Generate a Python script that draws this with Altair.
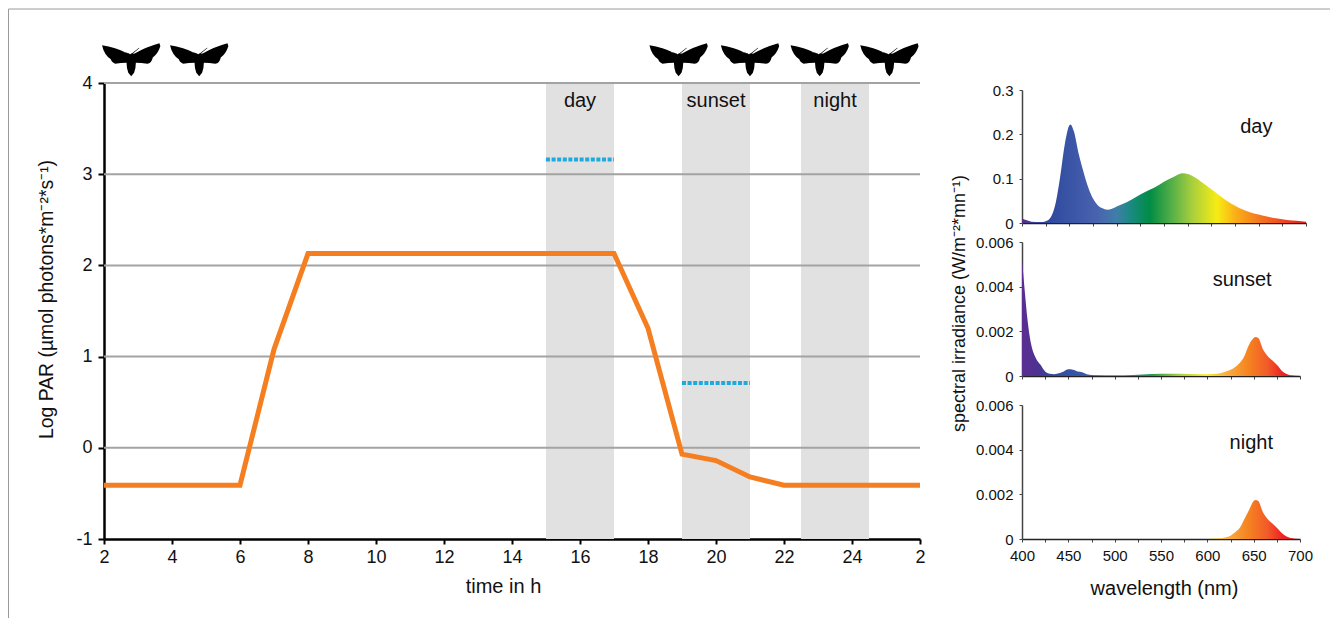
import altair as alt
import pandas as pd

FONT = "Liberation Sans"

# left panel data
line_t = [2, 6, 7, 8, 17, 18, 19, 20, 21, 22, 26]
line_v = [-0.41, -0.41, 1.08, 2.13, 2.13, 1.31, -0.07, -0.14, -0.32, -0.41, -0.41]
band_names = ["day", "sunset", "night"]
band_start = [15, 19, 22.5]
band_end = [17, 21, 24.5]
band_label_x = [16, 20, 23.5]
band_label_y = [3.8, 3.8, 3.8]
meas_start = [15, 19]
meas_end = [17, 21]
meas_v = [3.16, 0.71]
grid_v = [0, 1, 2, 3, 4]
moth_t = [2.8, 4.8, 18.9, 21.0, 23.05, 25.1]
moth_y = [4.26] * 6
MOTH = ("M0,-0.2 L0.03,-0.21 L0.27,-0.4 L0.285,-0.39 L0.05,-0.19 L0.12,-0.2 Q0.5,-0.42 0.97,-0.55 L1,-0.45 "
        "Q0.92,-0.2 0.74,-0.06 Q0.7,0.14 0.55,0.15 Q0.35,0.12 0.16,0.12 Q0.16,0.3 0.1,0.46 L0,0.58 L-0.1,0.46 Q-0.16,0.3 -0.16,0.12 "
        "Q-0.35,0.12 -0.55,0.15 Q-0.68,0.1 -0.7,0 Q-0.93,-0.15 -1,-0.48 Q-0.55,-0.42 -0.12,-0.2 L-0.05,-0.19 L-0.27,-0.27 L-0.285,-0.26 L-0.03,-0.17 Z")

# spectra
day_wl = [400,405,410,420,425,430,435,440,445,451,455,460,465,470,475,480,485,490,495,500,510,520,530,540,550,560,570,580,590,600,610,620,630,640,650,660,670,680,690,700]
day_v = [.01,.006,.003,.002,.004,.012,.04,.10,.175,.222,.205,.155,.115,.08,.055,.04,.033,.03,.032,.037,.046,.058,.07,.08,.093,.104,.112,.106,.092,.076,.06,.045,.033,.025,.019,.014,.01,.007,.005,.003]
sun_wl = [400,403,406,410,415,420,425,430,435,440,445,450,455,460,465,470,475,480,500,520,540,560,580,600,610,620,630,640,645,650,652,655,660,665,670,675,680,685,690,700]
sun_v = [.0052,.0038,.0025,.0014,.0008,.0005,.0002,.0001,.00008,.00012,.0002,.0003,.00028,.0002,.00017,.00008,.00005,.00003,.00002,.00005,.00009,.0001,.00009,.00008,.0001,.0002,.0004,.0009,.0014,.0017,.00175,.0017,.0012,.0009,.0007,.0005,.00025,.0001,.00003,0]
night_wl = [400,600,610,620,625,630,635,640,645,650,652,655,660,665,670,675,680,685,690,700]
night_v = [0,0,.00002,.00008,.00015,.0003,.0005,.0009,.0013,.0017,.00175,.0017,.0012,.0009,.0007,.0005,.00028,.00012,.00005,0]

stop_wl_day = [400,412,430,480,500,515,535,560,580,606,625,650,680,700]
stop_col_day = ["#5a2d82","#3b3f98","#2f4a9e","#4a63b0","#3f7ea8","#1a8a80","#008c45","#5cb247","#a9cf3d","#f7ec13","#fbb017","#f47a20","#ee3f23","#e0201c"]
stop_wl_red = [400,418,430,480,510,540,570,600,620,645,665,682,700]
stop_col_red = ["#5c2d91","#4b3392","#2f4a9e","#3f5cab","#1a8a80","#1f9a4a","#a9cf3d","#f7ec13","#fbb040","#f58220","#f15a29","#ed2024","#e0201c"]


def gradient(wl, cols):
    return alt.Gradient(
        gradient="linear", x1=0, x2=1, y1=0, y2=0,
        stops=[alt.GradientStop(offset=(w - 400) / 300, color=c) for w, c in zip(wl, cols)],
    )


x_axis = alt.Axis(values=list(range(2, 27, 2)), labelExpr="datum.value > 24 ? '2' : datum.label", title="time in h",
                  grid=False, domainColor="#000", domainWidth=2.5, tickColor="#000", tickWidth=2, tickSize=5, labelFlush=False,
                  labelFontSize=18, titleFontSize=20, titleFontWeight="normal", labelPadding=4, titlePadding=10, titleX=399, labelColor="#111", titleColor="#111")
y_axis = alt.Axis(values=[-1, 0, 1, 2, 3, 4], title="Log PAR (µmol photons*m⁻²*s⁻¹)", grid=False, labelFlush=False,
                  labelExpr="datum.value == -1 ? '-1' : datum.label", titleY=216,
                  domainColor="#000", domainWidth=2.5, tickColor="#000", tickWidth=2, tickSize=6,
                  labelFontSize=18, titleFontSize=19.4, titleFontWeight="normal", labelPadding=6, titlePadding=19, labelColor="#111", titleColor="#111")


def X(field):
    return alt.X(field, type="quantitative", scale=alt.Scale(domain=[2, 26], nice=False), axis=x_axis, title="time in h")


def Y(field):
    return alt.Y(field, type="quantitative", scale=alt.Scale(domain=[-1, 4], nice=False), axis=y_axis, title="Log PAR (µmol photons*m⁻²*s⁻¹)")


blank = pd.DataFrame({"a": [0]})
bands = pd.DataFrame({"s": band_start, "e": band_end, "x": band_label_x, "y": band_label_y, "n": band_names})

l_bands = alt.Chart(bands).mark_rect(color="#e1e1e1").encode(x=X("s:Q"), x2="e:Q")
l_grid = alt.Chart(pd.DataFrame({"v": grid_v})).mark_rule(color="#a3a3a3", strokeWidth=2).encode(y=Y("v:Q"))
l_meas = alt.Chart(pd.DataFrame({"s": meas_start, "e": meas_end, "v": meas_v})).mark_rule(
    color="#1fa9dc", strokeWidth=4, strokeDash=[4, 1.6]).encode(x=X("s:Q"), x2="e:Q", y=Y("v:Q"))
l_line = alt.Chart(pd.DataFrame({"t": line_t, "v": line_v})).mark_line(color="#f57f20", strokeWidth=5, strokeJoin="miter").encode(
    x=X("t:Q"), y=Y("v:Q"))
l_moth = alt.Chart(pd.DataFrame({"t": moth_t, "v": moth_y})).mark_point(
    shape=MOTH, filled=True, color="#000", opacity=1, size=3400, strokeWidth=0, clip=False).encode(
    x=X("t:Q"), y=Y("v:Q"))
l_text = alt.Chart(bands).mark_text(font=FONT, fontSize=20, color="#111").encode(
    x=X("x:Q"), y=Y("y:Q"), text="n:N")
frame_v = alt.Chart(blank).mark_rule(color="#9a9a9a", strokeWidth=1).encode(x=alt.value(-95.5), y=alt.value(-74), y2=alt.value(535))
frame_h = alt.Chart(blank).mark_rule(color="#9a9a9a", strokeWidth=1).encode(x=alt.value(-95.5), x2=alt.value(1226), y=alt.value(-74))

left = alt.layer(frame_v, frame_h, l_bands, l_grid, l_meas, l_line, l_moth, l_text).properties(width=816, height=456)


def panel(wl, vals, ymax, yticks, fill, w, h, label, lx, ly, show_x=False, ytitle=None):
    xtitle = "wavelength (nm)" if show_x else None
    xa = alt.Axis(values=list(range(400, 701, 25)), labels=show_x, tickColor="#444", tickSize=3, tickWidth=1, domainColor="#222",
                  domainWidth=1.5, grid=False, title=xtitle, labelFontSize=15, labelFlush=False,
                  titleFontSize=20, titleFontWeight="normal", labelPadding=6, titlePadding=15, labelColor="#111", titleColor="#111",
                  labelExpr="datum.value % 50 == 0 ? datum.label : ''", labelOverlap=False, format="d", titleX=142)
    ya = alt.Axis(values=yticks, grid=False, domainColor="#444", domainWidth=1.5, tickColor="#444", tickSize=3, tickWidth=1,
                  labelFontSize=15, labelPadding=6, labelColor="#111", labelFlush=False,
                  labelExpr="datum.value == 0 ? '0' : datum.label", format=".1f" if ymax > 0.1 else ".3f",
                  title=ytitle, titleFontSize=18, titleFontWeight="normal", titleColor="#111", titlePadding=7, titleY=61)
    xs = alt.Scale(domain=[400, 700], nice=False)
    ys = alt.Scale(domain=[0, ymax], nice=False)
    area = alt.Chart(pd.DataFrame({"w": wl, "v": vals})).mark_area(color=fill, interpolate="monotone").encode(
        x=alt.X("w:Q", scale=xs, axis=xa, title=xtitle), y=alt.Y("v:Q", scale=ys, axis=ya, title=ytitle))
    text = alt.Chart(pd.DataFrame({"w": [lx], "v": [ly], "n": [label]})).mark_text(font=FONT, fontSize=20, color="#111").encode(
        x=alt.X("w:Q", scale=xs, axis=xa, title=xtitle), y=alt.Y("v:Q", scale=ys, axis=ya, title=ytitle), text="n:N")
    return alt.layer(area, text).properties(width=w, height=h)


day = panel(day_wl, day_v, 0.3, [0, 0.1, 0.2, 0.3], gradient(stop_wl_day, stop_col_day), 284, 133, "day", 647.5, 0.216)
sunset = panel(sun_wl, sun_v, 0.006, [0, 0.002, 0.004, 0.006], gradient(stop_wl_red, stop_col_red), 278, 134, "sunset", 637.6, 0.0043,
               ytitle="spectral irradiance (W/m⁻²*mn⁻¹)")
night = panel(night_wl, night_v, 0.006, [0, 0.002, 0.004, 0.006], gradient(stop_wl_red, stop_col_red), 278, 134, "night", 647.4, 0.0043, show_x=True)


def spacer(h):
    return alt.Chart(blank).mark_point(opacity=0).encode(x=alt.value(0), y=alt.value(0)).properties(width=1, height=h)


right = alt.vconcat(spacer(5.7), day, spacer(17), sunset, spacer(26.5), night, spacing=1, bounds="flush")

chart = (
    alt.hconcat(left, right, spacing=102, bounds="flush", padding={"left": 0, "top": 0, "right": 0, "bottom": 0}, background="white")
    .configure_view(strokeWidth=0)
    .configure_axis(labelFont=FONT, titleFont=FONT)
)
chart.save("out.html", embed_options={"renderer": "svg", "actions": False})
